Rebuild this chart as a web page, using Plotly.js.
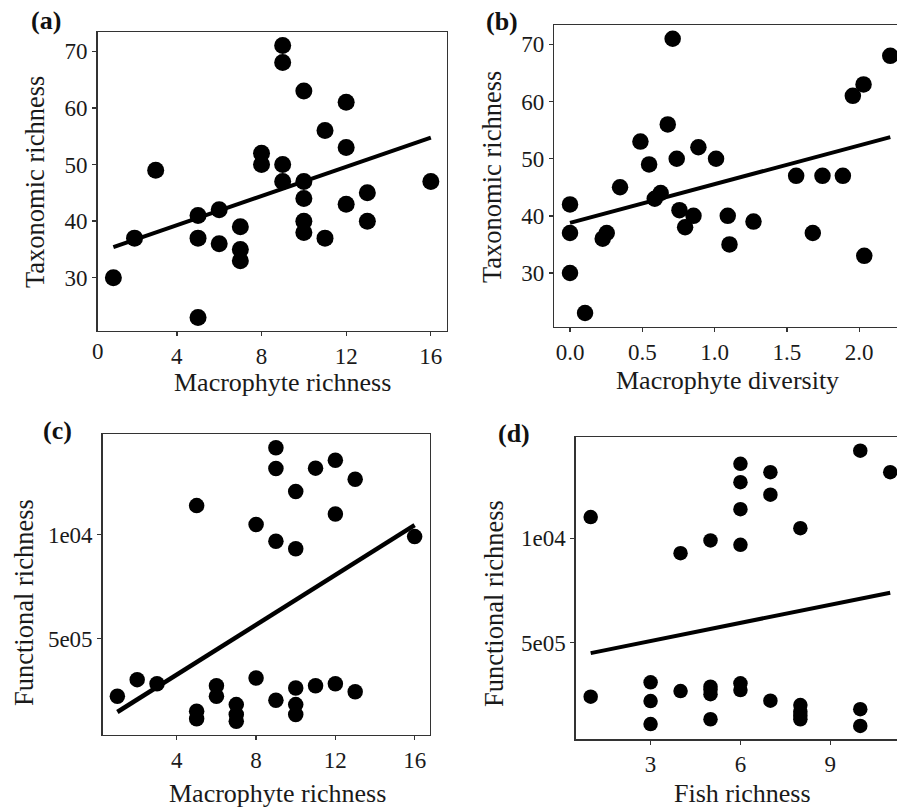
<!DOCTYPE html>
<html><head><meta charset="utf-8">
<script src="https://cdn.plot.ly/plotly-3.0.1.min.js"></script>
<style>html,body{margin:0;padding:0;overflow:hidden;background:#fff}#chart{width:910px;height:810px}</style>
</head><body><div id="chart"></div>
<script>
// Panel (a) & (c): macrophyte richness
const macroRich = [1,2,3,5,5,5,6,6,7,7,7,8,8,9,9,9,9,10,10,10,10,10,11,11,12,12,12,13,13,16];
const taxRichA  = [30,37,49,41,37,23,42,36,39,35,33,52,50,71,68,50,47,63,47,44,40,38,56,37,61,53,43,45,40,47];
// Panel (b): macrophyte diversity
const macroDiv = [0,0,0,0.104,0.226,0.254,0.346,0.487,0.547,0.586,0.627,0.676,0.710,0.738,0.757,0.796,0.854,0.888,1.010,1.091,1.103,1.269,1.564,1.679,1.746,1.887,1.956,2.030,2.035,2.215];
const taxRichB = [42,37,30,23,36,37,45,53,49,43,44,56,71,50,41,38,40,52,50,40,35,39,47,37,47,47,61,63,33,68];
// Panel (c): functional richness vs macrophyte richness
const funcRichC = [2.23e5,3.03e5,2.83e5,11.39e5,1.51e5,1.15e5,2.74e5,2.23e5,1.83e5,1.35e5,1.03e5,10.48e5,3.11e5,14.17e5,13.17e5,9.68e5,2.04e5,12.07e5,9.32e5,2.63e5,1.83e5,1.35e5,13.19e5,2.74e5,13.57e5,10.99e5,2.83e5,12.66e5,2.45e5,9.9e5];
// Panel (d): functional richness vs fish richness
const fishRich  = [1,1,3,3,3,4,4,5,5,5,5,5,6,6,6,6,6,6,7,7,7,8,8,8,8,8,10,10,10,11];
const funcRichD = [11.01e5,2.41e5,3.10e5,2.20e5,1.10e5,9.28e5,2.68e5,9.89e5,2.89e5,2.74e5,2.53e5,1.33e5,13.56e5,12.68e5,11.39e5,9.68e5,3.05e5,2.73e5,13.16e5,12.08e5,2.22e5,10.48e5,2.01e5,1.69e5,1.50e5,1.33e5,14.19e5,1.81e5,1.01e5,13.16e5];
// Tick labels
const tickTax = [30,40,50,60,70];
const tickFuncVals = [5e5,1e6];
const tickFuncText = ["5e05","1e04"];
const tickMacro = [4,8,12,16];
const tickDiv = [0,0.5,1.0,1.5,2.0];
const tickFish = [3,6,9];
const panelLabels = ["(a)","(b)","(c)","(d)"];
const xTitles = ["Macrophyte richness","Macrophyte diversity","Macrophyte richness","Fish richness"];
const yTitles = ["Taxonomic richness","Taxonomic richness","Functional richness","Functional richness"];

const W = 910, H = 810;
const F = '"Liberation Serif", "Times New Roman", serif';
const fx = p => p / W, fy = p => 1 - p / H;

function fit(x, y) {
  const n = x.length;
  const mx = x.reduce((a,b)=>a+b,0)/n, my = y.reduce((a,b)=>a+b,0)/n;
  let sxy = 0, sxx = 0;
  for (let i=0;i<n;i++){ sxy += (x[i]-mx)*(y[i]-my); sxx += (x[i]-mx)*(x[i]-mx); }
  const b = sxy/sxx, a = my - b*mx;
  const x0 = Math.min(...x), x1 = Math.max(...x);
  return {x:[x0,x1], y:[a+b*x0, a+b*x1]};
}

const panels = [
  {x: macroRich, y: taxRichA, ms: 17, lw: 4},
  {x: macroDiv, y: taxRichB, ms: 16.5, lw: 4},
  {x: macroRich, y: funcRichC, ms: 15.5, lw: 4.5},
  {x: fishRich, y: funcRichD, ms: 14.5, lw: 4}
];
const data = [];
panels.forEach((p, i) => {
  const xa = i === 0 ? 'x' : 'x' + (i+1), ya = i === 0 ? 'y' : 'y' + (i+1);
  const f = fit(p.x, p.y);
  data.push({type:'scatter', mode:'lines', x:f.x, y:f.y, xaxis:xa, yaxis:ya, line:{color:'#000', width:p.lw}, hoverinfo:'skip', showlegend:false});
  data.push({type:'scatter', mode:'markers', x:p.x, y:p.y, xaxis:xa, yaxis:ya, marker:{color:'#000', size:p.ms, line:{width:0}}, showlegend:false});
});

function ax(dom, range, extra) {
  return Object.assign({domain: dom, range: range, showgrid:false, zeroline:false, showline:true, mirror:true,
    linecolor:'#333', linewidth:1.3, ticks:'outside', ticklen:4, tickwidth:1.3, tickcolor:'#333',
    tickfont:{family:F, size:23, color:'#1a1a1a'}, fixedrange:true}, extra);
}

// pixel boxes [left, right, top, bottom]
const boxes = [[97.5, 446.7, 32, 331], [554.1, 906.2, 25, 326.7], [102.5, 429.5, 434, 735], [575.7, 905.2, 437.3, 739.3]];
const dom = b => ({x:[fx(b[0]), fx(b[1])], y:[fy(b[3]), fy(b[2])]});
const d = boxes.map(dom);

const layout = {
  width: W, height: H, margin:{l:0,r:0,t:0,b:0}, paper_bgcolor:'#fff', plot_bgcolor:'#fff',
  font:{family:F, color:'#1a1a1a'}, showlegend:false,
  xaxis:  ax(d[0].x, [0.25, 16.75], {anchor:'y',  tickvals: tickMacro}),
  yaxis:  ax(d[0].y, [20.6, 73.4], {anchor:'x',  tickvals: tickTax}),
  xaxis2: ax(d[1].x, [-0.11, 2.325], {anchor:'y2', tickvals: tickDiv, tickformat:'.1f'}),
  yaxis2: ax(d[1].y, [20.6, 73.4], {anchor:'x2', tickvals: tickTax}),
  xaxis3: ax(d[2].x, [0.25, 16.75], {anchor:'y3', tickvals: tickMacro}),
  yaxis3: ax(d[2].y, [0.37e5, 14.83e5], {anchor:'x3', tickvals: tickFuncVals, ticktext: tickFuncText}),
  xaxis4: ax(d[3].x, [0.5, 11.5], {anchor:'y4', tickvals: tickFish}),
  yaxis4: ax(d[3].y, [0.37e5, 14.83e5], {anchor:'x4', tickvals: tickFuncVals, ticktext: tickFuncText}),
  annotations: []
};

const ann = layout.annotations;
const labelPos = [[46, 21], [502, 22], [58, 430], [514, 434]];
panelLabels.forEach((t, i) => ann.push({text: t, xref:'paper', yref:'paper', x: fx(labelPos[i][0]), y: fy(labelPos[i][1]), showarrow:false, xanchor:'center', yanchor:'middle', font:{family:F, size:26, color:'#111', weight:'bold'}}));
const xtPos = [[282, 382], [727, 380], [277, 793], [742, 793]];
xTitles.forEach((t, i) => ann.push({text: t, xref:'paper', yref:'paper', x: fx(xtPos[i][0]), y: fy(xtPos[i][1]), showarrow:false, xanchor:'center', yanchor:'middle', font:{family:F, size:26, color:'#1a1a1a'}}));
const ytPos = [[35, 182], [492, 177], [24, 603], [494, 603]];
yTitles.forEach((t, i) => ann.push({text: t, xref:'paper', yref:'paper', x: fx(ytPos[i][0]), y: fy(ytPos[i][1]), showarrow:false, textangle:-90, xanchor:'center', yanchor:'middle', font:{family:F, size:26.5, color:'#1a1a1a'}}));
// "0" label at left edge of panel (a) x axis
ann.push({text:'0', xref:'x', yref:'paper', x:0.25, y: fy(351), showarrow:false, xanchor:'center', yanchor:'middle', font:{family:F, size:23, color:'#1a1a1a'}});

Plotly.newPlot('chart', data, layout, {staticPlot:true, displayModeBar:false});
</script>
</body></html>
